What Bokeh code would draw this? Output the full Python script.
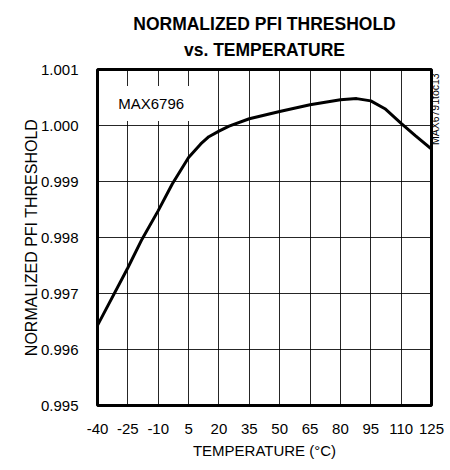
import numpy as np
from bokeh.plotting import figure
from bokeh.models import (FixedTicker, Range1d, Title, CustomJSTickFormatter, LinearAxis, Label)
from bokeh.embed import file_html
from bokeh.resources import INLINE

# Data
temperature = [-40, -25, -18, -10, -3, 5, 11, 15, 20, 25, 35, 50, 65, 80, 88, 95, 102, 110, 117, 125]
threshold = [0.99643, 0.99746, 0.99797, 0.99848, 0.99896, 0.99943, 0.99967, 0.99980, 0.99990,
             0.99999, 1.00012, 1.00025, 1.00037, 1.00046, 1.00048, 1.00044, 1.00030, 1.00004,
             0.99982, 0.99958]
x_ticks = [-40, -25, -10, 5, 20, 35, 50, 65, 80, 95, 110, 125]
y_ticks = [0.995, 0.996, 0.997, 0.998, 0.999, 1.000, 1.001]
title_lines = ["NORMALIZED PFI THRESHOLD", "vs. TEMPERATURE"]
watermark = "MAX6791toc13"

FONT = "Liberation Sans"

W, H = 450, 470
FL, FR, FT, FB = 97, 433, 69, 405   # frame edges in canvas pixels
p = figure(width=W, height=H, output_backend="svg", toolbar_location=None,
           x_range=Range1d(-40, 125), y_range=Range1d(0.995, 1.001),
           min_border_left=FL, min_border_right=W - FR, min_border_top=FT,
           min_border_bottom=H - FB)

p.outline_line_color = "black"
p.outline_line_width = 3

for ax in (p.xaxis[0], p.yaxis[0]):
    ax.axis_line_color = None
    ax.major_tick_line_color = None
    ax.minor_tick_line_color = None
    ax.major_label_text_font = FONT
    ax.major_label_text_font_size = "15px"
    ax.major_label_text_color = "black"
    ax.axis_label_text_font = FONT
    ax.axis_label_text_font_size = "15px"
    ax.axis_label_text_font_style = "normal"
    ax.axis_label_text_color = "black"

p.yaxis.axis_label_text_font_size = "16px"
p.xaxis.ticker = FixedTicker(ticks=x_ticks)
p.yaxis.ticker = FixedTicker(ticks=y_ticks)
p.xaxis.formatter = CustomJSTickFormatter(code="return String(Math.round(tick));")
p.yaxis.formatter = CustomJSTickFormatter(code="return tick.toFixed(3);")
p.xaxis.major_label_standoff = 12
p.yaxis.major_label_standoff = 13
p.xaxis.axis_label = "TEMPERATURE (°C)"
p.yaxis.axis_label = "NORMALIZED PFI THRESHOLD"
p.xaxis.axis_label_standoff = 5
p.yaxis.axis_label_standoff = -2

p.xgrid.ticker = FixedTicker(ticks=x_ticks)
p.ygrid.ticker = FixedTicker(ticks=y_ticks)
for g in (p.xgrid[0], p.ygrid[0]):
    g.grid_line_color = "black"
    g.grid_line_width = 1
    g.grid_line_alpha = 0.85

p.line(temperature, threshold, line_color="black", line_width=3)

p.add_layout(Label(x=-13.5, y=1.000393, text="MAX6796", text_align="center",
                   text_baseline="middle", text_font=FONT, text_font_size="15px",
                   text_color="black", background_fill_color="white",
                   background_fill_alpha=1.0, padding=9))

# watermark as a single rotated tick label of a bare right-hand axis
p.extra_y_ranges = {"wm": Range1d(0, 1)}
wm_axis = LinearAxis(y_range_name="wm", ticker=FixedTicker(ticks=[0.775]),
                     formatter=CustomJSTickFormatter(code=f"return '{watermark}';"),
                     major_label_orientation=np.pi / 2, major_label_standoff=4,
                     axis_line_color=None, major_tick_line_color=None,
                     minor_tick_line_color=None, major_tick_out=0, major_tick_in=0,
                     major_label_text_font=FONT, major_label_text_font_size="10.5px",
                     major_label_text_color="black")
p.add_layout(wm_axis, "right")

p.add_layout(Title(text="\n".join(title_lines), align="center", text_align="center",
                   text_font=FONT, text_font_size="17.5px", text_font_style="bold",
                   text_color="black", text_line_height=1.32, standoff=19), "above")

open("out.html", "w").write(file_html(p, INLINE))
